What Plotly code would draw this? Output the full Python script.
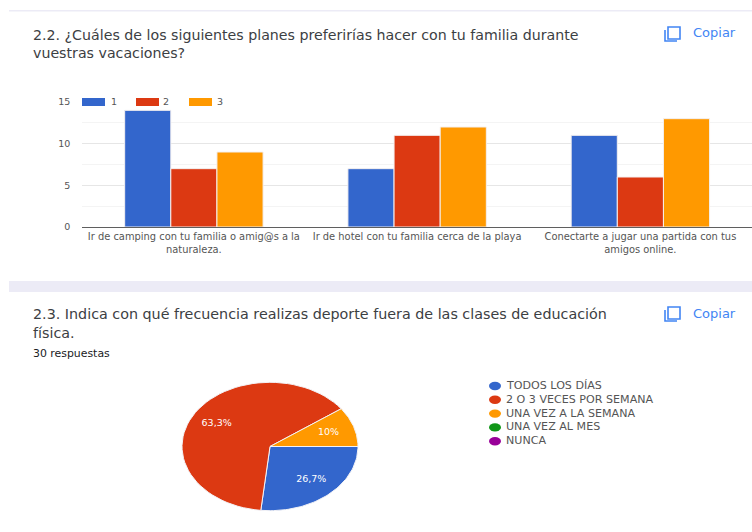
import numpy as np
import plotly.graph_objects as go

W, H = 752, 532

TITLE_BARS = "2.2. ¿Cuáles de los siguientes planes preferirías hacer con tu familia durante<br>vuestras vacaciones?"
TITLE_PIE = "2.3. Indica con qué frecuencia realizas deporte fuera de las clases de educación<br>física."
RESPONSES = "30 respuestas"

PLANS = [
    "Ir de camping con tu familia o amig@s a la<br>naturaleza.",
    "Ir de hotel con tu familia cerca de la playa",
    "Conectarte a jugar una partida con tus<br>amigos online.",
]
SERIES_NAMES = ["1", "2", "3"]
SERIES_1 = [14, 7, 11]
SERIES_2 = [7, 11, 6]
SERIES_3 = [9, 12, 13]
BAR_TICKS = [0, 5, 10, 15]

FREQ_LABELS = ["TODOS LOS DÍAS", "2 O 3 VECES POR SEMANA", "UNA VEZ A LA SEMANA", "UNA VEZ AL MES", "NUNCA"]
FREQ_COUNTS = [8, 19, 3, 0, 0]
FREQ_TEXT = ["26,7%", "63,3%", "10%", "", ""]

COLORS = ["#3366cc", "#dc3912", "#ff9900", "#109618", "#990099"]
TEXT_COLOR = "#3c4043"
LABEL_COLOR = "#555555"
BLUE_LINK = "#4285f4"
BAND_COLOR = "#ecebf6"
FONT = "DejaVu Sans"


# the screenshot is laid out in pixels, paper coords are easier from these
def px(x):
    return x / W


def py(y):
    return 1 - y / H


def note(x, y, text, size, color=TEXT_COLOR):
    return dict(
        x=px(x), y=py(y), xref="paper", yref="paper", text=text, showarrow=False, align="left",
        xanchor="left", yanchor="middle", borderpad=0, font=dict(size=size, color=color, family=FONT),
    )


def rect(x0, y0, x1, y1, color, layer="above"):
    return dict(
        type="rect", xref="paper", yref="paper", x0=px(x0), x1=px(x1), y0=py(y0), y1=py(y1),
        fillcolor=color, line_width=0, layer=layer,
    )


def copy_icon(top):
    icon = [
        dict(type="rect", xref="paper", yref="paper", x0=px(668), x1=px(680), y0=py(top), y1=py(top + 12),
             line=dict(color=BLUE_LINK, width=1.6)),
        dict(type="path", xref="paper", yref="paper",
             path=f"M {px(665)} {py(top + 3)} L {px(665)} {py(top + 14)} L {px(677)} {py(top + 14)}",
             line=dict(color=BLUE_LINK, width=1.6)),
    ]
    return icon


fig = go.Figure()

for name, values, color in zip(SERIES_NAMES, [SERIES_1, SERIES_2, SERIES_3], COLORS):
    fig.add_trace(go.Bar(
        name=name, x=PLANS, y=values, marker=dict(color=color, line=dict(color="#f4f0f0", width=1)),
        xaxis="x", yaxis="y",
    ))

# Pie is squashed in the screenshot, plotly pies are always round, so the slices
# are drawn on their own axes with different x and y scales.
fractions = np.array(FREQ_COUNTS) / sum(FREQ_COUNTS)
start = 0.0
for label, frac, text, color in zip(FREQ_LABELS, fractions, FREQ_TEXT, COLORS):
    if frac == 0:
        continue
    angles = 2 * np.pi * np.linspace(start, start + frac, 60)
    fig.add_trace(go.Scatter(
        x=np.r_[0, np.cos(angles), 0], y=np.r_[0, -np.sin(angles), 0], mode="lines", fill="toself",
        fillcolor=color, line=dict(color="#f2f2f6", width=1), name=label, xaxis="x2", yaxis="y2",
        hoverinfo="name",
    ))
    mid = 2 * np.pi * (start + frac / 2)
    fig.add_trace(go.Scatter(
        x=[0.7 * np.cos(mid)], y=[-0.7 * np.sin(mid)], mode="text", text=[text],
        textfont=dict(size=9.5, color="#ffffff", family=FONT), xaxis="x2", yaxis="y2", hoverinfo="skip",
    ))
    start += frac

shapes = [
    rect(9, 10, W, 11.5, BAND_COLOR, layer="below"),
    rect(9, 281, W, 292, BAND_COLOR, layer="below"),
]
shapes += copy_icon(27) + copy_icon(307)
for x0, color in zip([82, 136, 189], COLORS):
    shapes.append(rect(x0, 98, x0 + 23, 106, color))

annotations = [
    note(32, 44, TITLE_BARS, 14.2),
    note(32, 323, TITLE_PIE, 14.3),
    note(32, 353, RESPONSES, 10.9, color="#202124"),
    note(692, 33, "Copiar", 13, color=BLUE_LINK),
    note(692, 313, "Copiar", 13, color=BLUE_LINK),
]
for x, name in zip([110, 162, 216], SERIES_NAMES):
    annotations.append(note(x, 102, name, 9.5, color=LABEL_COLOR))

for i, (label, color) in enumerate(zip(FREQ_LABELS, COLORS)):
    y = 386 + i * 13.8
    shapes.append(dict(type="circle", xref="paper", yref="paper", x0=px(489), x1=px(501), y0=py(y - 4.2), y1=py(y + 4.2),
                       fillcolor=color, line_width=0))
    annotations.append(note(505, y - 0.5, label, 11.1, color=LABEL_COLOR))

fig.update_layout(
    width=W, height=H, margin=dict(l=0, r=0, t=0, b=0), showlegend=False,
    paper_bgcolor="white", plot_bgcolor="white", barmode="group", bargap=0.38, bargroupgap=0.0,
    xaxis=dict(
        domain=[px(82.25), 1], anchor="y", showline=True, linecolor="#5f5f5f", linewidth=1, showgrid=False,
        ticks="", tickangle=0, automargin=False, tickfont=dict(size=9.9, color=LABEL_COLOR, family=FONT),
    ),
    yaxis=dict(
        domain=[py(227), py(102)], anchor="x", range=[0, 15], tickvals=BAR_TICKS, showline=False, zeroline=False,
        gridcolor="#e6e6e6", gridwidth=1, ticks="", ticklabelstandoff=11, automargin=False,
        tickfont=dict(size=9.5, color=LABEL_COLOR, family=FONT),
        minor=dict(tickvals=[2.5, 7.5, 12.5], showgrid=True, gridcolor="#f4f4f4", gridwidth=1),
    ),
    xaxis2=dict(domain=[px(170), px(370)], anchor="y2", range=[-100 / 88, 100 / 88], visible=False, automargin=False),
    yaxis2=dict(domain=[py(521.5), py(371.5)], anchor="x2", range=[-75 / 64.2, 75 / 64.2], visible=False, automargin=False),
    shapes=shapes,
    annotations=annotations,
)

# default page margin would push the fixed-size figure 8px down and right
fig.write_html("out.html", config=dict(displayModeBar=False), post_script="document.body.style.margin = '0';")
